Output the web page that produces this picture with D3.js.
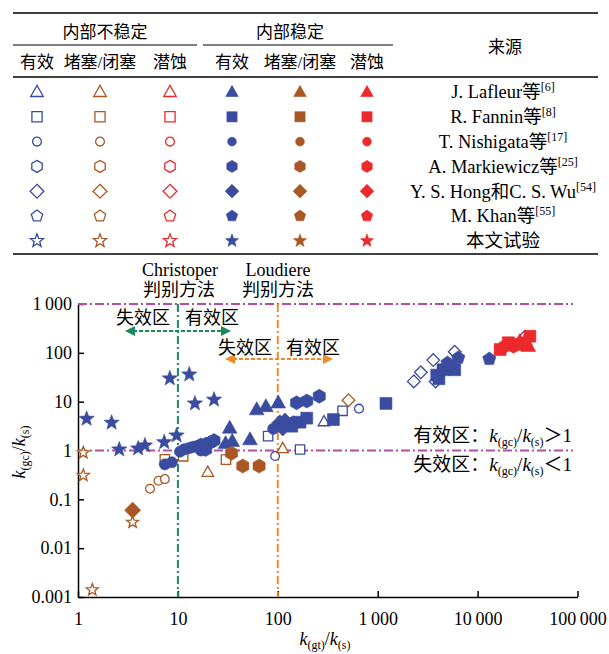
<!DOCTYPE html>
<html>
<head>
<meta charset="utf-8">
<script src="https://cdn.jsdelivr.net/npm/d3@7"></script>
<style>
  body { margin: 0; background: #fff; }
  svg { display: block; font-family: "Liberation Serif", "Noto Sans CJK SC", serif; }
  .cjk { font-family: "Liberation Serif", "Noto Sans CJK SC", serif; }
</style>
</head>
<body>
<svg id="chart" width="609" height="654"></svg>
<script>
// ---- data ----
const shapes = ['triangle', 'square', 'circle', 'hexagon', 'diamond', 'pentagon', 'star'];
const sources = ['J. Lafleur等', 'R. Fannin等', 'T. Nishigata等', 'A. Markiewicz等', 'Y. S. Hong和C. S. Wu', 'M. Khan等', '本文试验'];
const sourceRefs = ['[6]', '[8]', '[17]', '[25]', '[54]', '[55]', ''];
const groupLabels = ['内部不稳定', '内部稳定'];
const columnLabels = ['有效', '堵塞/闭塞', '潜蚀', '有效', '堵塞/闭塞', '潜蚀'];
const xTicks = [1, 10, 100, 1000, 10000, 100000];
const yTicks = [0.001, 0.01, 0.1, 1, 10, 100, 1000];

// [k(gt)/k(s), k(gc)/k(s), shape]
const unstableEffective = [
  [94, 0.77, 'circle'], [167, 1.05, 'square'], [80, 1.97, 'square'], [290, 3.9, 'triangle'],
  [445, 6.5, 'square'], [650, 7.2, 'circle'],
  [2300, 26, 'diamond'], [2700, 40, 'diamond'], [3600, 71, 'diamond'], [3800, 26, 'diamond'],
  [5900, 105, 'diamond'], [29800, 214, 'diamond']
];
const unstableClogging = [
  [1.13, 0.9, 'star'], [1.13, 0.31, 'star'], [1.39, 0.0014, 'star'], [3.52, 0.034, 'star'],
  [5.26, 0.165, 'circle'], [6.4, 0.24, 'circle'], [7.4, 0.26, 'circle'],
  [7.4, 0.66, 'square'], [11.3, 0.76, 'square'], [19.9, 0.36, 'triangle'], [30.3, 0.65, 'square'],
  [112, 1.1, 'triangle'], [510, 10.7, 'diamond']
];
const unstableSuffusion = [];
const stableEffective = [
  [1.22, 4.45, 'star'], [2.17, 3.7, 'star'], [2.59, 1.05, 'star'], [4.0, 1.1, 'star'],
  [4.68, 1.27, 'star'], [7.3, 1.48, 'star'], [9.7, 2.03, 'star'], [8.3, 30, 'star'],
  [13, 36, 'star'], [14.8, 9.2, 'star'], [23, 11, 'star'],
  [7.4, 0.52, 'circle'], [8.7, 0.575, 'circle'], [10.5, 0.95, 'circle'], [11.5, 1.05, 'circle'],
  [12.5, 1.1, 'circle'], [13.5, 1.15, 'circle'], [14.5, 1.2, 'circle'], [16, 1.25, 'circle'],
  [17, 1.0, 'circle'], [18, 1.05, 'circle'], [90, 2.78, 'circle'],
  [17, 1.3, 'hexagon'], [19, 1.35, 'hexagon'], [21, 1.45, 'hexagon'], [23, 1.6, 'hexagon'],
  [19, 1.05, 'hexagon'], [143, 3.7, 'hexagon'], [154, 9.5, 'hexagon'], [195, 10.3, 'hexagon'],
  [260, 12.9, 'hexagon'],
  [30, 1.4, 'triangle'], [35, 1.55, 'triangle'], [33, 2.9, 'triangle'], [52.7, 1.68, 'triangle'],
  [61.5, 6.9, 'triangle'], [76, 8, 'triangle'], [101, 9.5, 'triangle'],
  [105, 3.7, 'diamond'], [112, 2.9, 'diamond'], [118, 4.0, 'diamond'],
  [138, 3.15, 'square'], [167, 3.8, 'square'], [195, 4.6, 'square'], [360, 4.3, 'square'],
  [1210, 9.2, 'square'],
  [3900, 35, 'square'], [4100, 29.5, 'square'], [4500, 45, 'square'], [5900, 45, 'square'],
  [5000, 62, 'pentagon'], [5300, 53, 'pentagon'], [6400, 79, 'pentagon'], [13100, 75, 'pentagon']
];
const stableClogging = [
  [3.52, 0.06, 'diamond'], [34.4, 0.88, 'hexagon'], [44.6, 0.48, 'hexagon'], [65, 0.48, 'hexagon']
];
const stableSuffusion = [
  [16800, 117, 'square'], [18800, 137, 'hexagon'], [20300, 161, 'square'], [22800, 137, 'hexagon'],
  [24000, 150, 'square'], [26500, 174, 'triangle'], [28000, 150, 'hexagon'], [32200, 137, 'triangle'],
  [33400, 219, 'square'], [30000, 180, 'triangle']
];

const BLUE = '#3a4c9f', BROWN = '#a95823', RED = '#ec2a2c';
const PURPLE = '#b04ea6', GREEN = '#1b8a5a', ORANGE = '#f08a2a';

// column styles: open blue / open brown / open red / filled ...
const styles = [
  {color: BLUE, filled: false}, {color: BROWN, filled: false}, {color: RED, filled: false},
  {color: BLUE, filled: true}, {color: BROWN, filled: true}, {color: RED, filled: true}
];
const seriesList = [unstableEffective, unstableClogging, unstableSuffusion,
                    stableEffective, stableClogging, stableSuffusion];

// ---- symbol paths ----
function polygon(n, r, rot) {
  const pts = d3.range(n).map(i => {
    const a = rot + i * 2 * Math.PI / n;
    return [r * Math.cos(a), r * Math.sin(a)];
  });
  return 'M' + pts.map(p => p[0].toFixed(2) + ',' + p[1].toFixed(2)).join('L') + 'Z';
}
function symbolPath(shape, r) {
  const up = -Math.PI / 2;
  switch (shape) {
    case 'triangle': return 'M0,' + (-r * 1.1) + 'L' + (r * 1.05) + ',' + (r * 0.75) + 'L' + (-r * 1.05) + ',' + (r * 0.75) + 'Z';
    case 'square': { const s = r * 0.85; return 'M' + -s + ',' + -s + 'H' + s + 'V' + s + 'H' + -s + 'Z'; }
    case 'circle': return d3.arc()({innerRadius: 0, outerRadius: r * 0.8, startAngle: 0, endAngle: 2 * Math.PI});
    case 'hexagon': return polygon(6, r, up);
    case 'diamond': return polygon(4, r * 1.15, up);
    case 'pentagon': return polygon(5, r, up);
    case 'star': {
      const pts = d3.range(10).map(i => {
        const rr = i % 2 === 0 ? r * 1.15 : r * 0.48;
        const a = up + i * Math.PI / 5;
        return [rr * Math.cos(a), rr * Math.sin(a)];
      });
      return 'M' + pts.map(p => p[0].toFixed(2) + ',' + p[1].toFixed(2)).join('L') + 'Z';
    }
  }
}
function drawMarker(g, shape, style, r) {
  return g.append('path')
    .attr('d', symbolPath(shape, r))
    .attr('fill', style.filled ? style.color : '#fff')
    .attr('stroke', style.color)
    .attr('stroke-width', style.filled ? 0.6 : 1.3)
    .attr('stroke-linejoin', 'miter');
}

const svg = d3.select('#chart');

// ---- legend table ----
const table = svg.append('g').attr('class', 'cjk');
const colX = [37, 100, 170, 232, 300, 367];
const rowY0 = 92, rowStep = 24.8;

table.append('line').attr('x1', 13).attr('x2', 598).attr('y1', 13).attr('y2', 13)
  .attr('stroke', '#000').attr('stroke-width', 1.5);
table.append('line').attr('x1', 13).attr('x2', 598).attr('y1', 77).attr('y2', 77)
  .attr('stroke', '#000').attr('stroke-width', 1.3);
table.append('line').attr('x1', 13).attr('x2', 598).attr('y1', 254).attr('y2', 254)
  .attr('stroke', '#000').attr('stroke-width', 1.5);
[[13, 197], [203, 393]].forEach(([a, b]) => {
  table.append('line').attr('x1', a).attr('x2', b).attr('y1', 45).attr('y2', 45)
    .attr('stroke', '#000').attr('stroke-width', 1.2);
});
table.selectAll('.grp').data(groupLabels).join('text')
  .attr('x', (d, i) => i === 0 ? 105 : 290).attr('y', 32)
  .attr('dy', '0.35em').attr('text-anchor', 'middle')
  .style('font-size', '17px').text(d => d);
table.selectAll('.col').data(columnLabels).join('text')
  .attr('x', (d, i) => colX[i]).attr('y', 62)
  .attr('dy', '0.35em').attr('text-anchor', 'middle')
  .style('font-size', '17px').text(d => d);
table.append('text').attr('x', 505).attr('y', 47).attr('dy', '0.35em')
  .attr('text-anchor', 'middle').style('font-size', '17px').text('来源');

shapes.forEach((shape, i) => {
  const yy = rowY0 + i * rowStep;
  styles.forEach((st, j) => {
    drawMarker(table.append('g').attr('transform', `translate(${colX[j]},${yy})`), shape, st,
      shape === 'circle' ? 5.5 : 6);
  });
  const t = table.append('text').attr('x', 503).attr('y', yy).attr('dy', '0.35em')
    .attr('text-anchor', 'middle').style('font-size', '18.5px');
  t.append('tspan').text(sources[i]);
  if (sourceRefs[i]) {
    t.append('tspan').attr('dy', -7).style('font-size', '12px').text(sourceRefs[i]);
  }
});

// ---- scatter chart ----
const x = d3.scaleLog().domain([1, 100000]).range([78, 577.5]);
const y = d3.scaleLog().domain([0.001, 1000]).range([597, 304]);
const fmt = d => d3.format(',')(d).replace(/,/g, '\u2009');

const xAxis = d3.axisBottom(x).tickValues(xTicks).tickFormat(fmt)
  .tickSizeInner(-6).tickSizeOuter(0).tickPadding(15);
const yAxis = d3.axisLeft(y).tickValues(yTicks).tickFormat(fmt)
  .tickSizeInner(-6).tickSizeOuter(0).tickPadding(6);

const xg = svg.append('g').attr('transform', 'translate(0,597)').call(xAxis);
const yg = svg.append('g').attr('transform', 'translate(78,0)').call(yAxis);
[xg, yg].forEach(g => {
  g.selectAll('path, line').attr('stroke', '#000').attr('stroke-width', 1.5);
  g.selectAll('text').style('font-size', '18px').attr('fill', '#000')
    .style('font-family', '"Liberation Serif", serif');
});

// reference lines
const refLines = svg.append('g');
[1000, 1].forEach(v => {
  refLines.append('line').attr('x1', x(1)).attr('x2', x(90000)).attr('y1', y(v)).attr('y2', y(v))
    .attr('stroke', PURPLE).attr('stroke-width', 2).attr('stroke-dasharray', '9,3,2,3');
});
[[10, GREEN], [100, ORANGE]].forEach(([v, c]) => {
  refLines.append('line').attr('x1', x(v)).attr('x2', x(v)).attr('y1', y(1000)).attr('y2', y(0.001))
    .attr('stroke', c).attr('stroke-width', 2).attr('stroke-dasharray', '8,3,2,3');
});

// points
const pts = svg.append('g');
seriesList.forEach((series, j) => {
  series.forEach(d => {
    const r = styles[j].filled ? 7 : 5.5;
    drawMarker(pts.append('g').attr('transform', `translate(${x(d[0])},${y(d[1])})`), d[2], styles[j], r);
  });
});

// arrows
const defs = svg.append('defs');
[['g', GREEN], ['o', ORANGE]].forEach(([id, c]) => {
  defs.append('marker').attr('id', 'arr-' + id).attr('viewBox', '0 0 10 10')
    .attr('refX', 8).attr('refY', 5).attr('markerWidth', 5).attr('markerHeight', 5)
    .attr('orient', 'auto-start-reverse')
    .append('path').attr('d', 'M0,0L10,5L0,10Z').attr('fill', c);
});
function dArrow(x1, x2, yy, c, id) {
  svg.append('line').attr('x1', x1).attr('x2', x2).attr('y1', yy).attr('y2', yy)
    .attr('stroke', c).attr('stroke-width', 2).attr('stroke-dasharray', '4,2')
    .attr('marker-start', `url(#arr-${id})`).attr('marker-end', `url(#arr-${id})`);
}
dArrow(127, 229, 331, GREEN, 'g');
dArrow(227, 331, 359, ORANGE, 'o');

const ann = svg.append('g').attr('class', 'cjk').style('font-size', '18px');
[['失效区', 143, 318], ['有效区', 212, 318], ['失效区', 245, 348], ['有效区', 313, 348]].forEach(([t, xx, yy]) => {
  ann.append('text').attr('x', xx).attr('y', yy).attr('dy', '0.35em').attr('text-anchor', 'middle').text(t);
});
[['Christoper', 180, 270], ['判别方法', 179, 290], ['Loudiere', 278, 270], ['判别方法', 278, 290]].forEach(([t, xx, yy]) => {
  ann.append('text').attr('x', xx).attr('y', yy).attr('dy', '0.35em').attr('text-anchor', 'middle')
    .style('font-size', '18px').text(t);
});

// ratio labels with subscripts
function ratio(sel, sub1) {
  sel.append('tspan').style('font-style', 'italic').text('k');
  sel.append('tspan').attr('dy', 4).style('font-size', '12px').text(`(${sub1})`);
  sel.append('tspan').attr('dy', -4).text('/');
  sel.append('tspan').style('font-style', 'italic').text('k');
  sel.append('tspan').attr('dy', 4).style('font-size', '12px').text('(s)');
}
[['有效区：', '\uFF1E1', 435], ['失效区：', '\uFF1C1', 464]].forEach(([pre, post, yy]) => {
  const t = svg.append('text').attr('x', 572).attr('y', yy).attr('dy', '0.35em')
    .attr('text-anchor', 'end').style('font-size', '19px');
  t.append('tspan').text(pre);
  ratio(t, 'gc');
  t.append('tspan').attr('dy', -4).text(post);
});

const xl = svg.append('text').attr('x', 325).attr('y', 639).attr('dy', '0.35em')
  .attr('text-anchor', 'middle').style('font-size', '18px');
ratio(xl, 'gt');
const yl = svg.append('text').attr('transform', 'translate(19,452) rotate(-90)')
  .attr('dy', '0.35em').attr('text-anchor', 'middle').style('font-size', '18px');
ratio(yl, 'gc');
</script>
</body>
</html>
